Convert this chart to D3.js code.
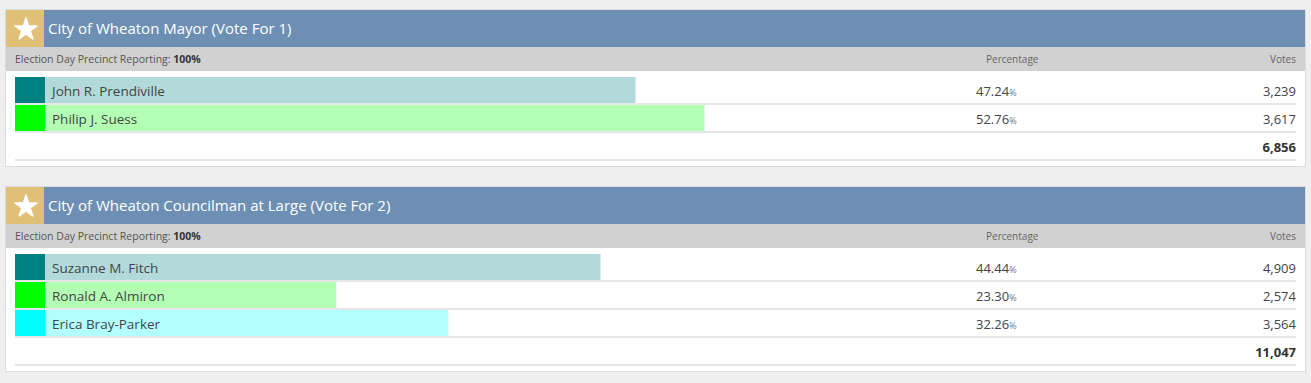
<!DOCTYPE html>
<html>
<head>
<meta charset="utf-8">
<script src="https://cdn.jsdelivr.net/npm/d3@7"></script>
<style>
  body { margin: 0; background: #efefef; }
  svg { display: block; font-family: "Open Sans", "Noto Sans", sans-serif; }
</style>
</head>
<body>
<svg id="canvas" width="1311" height="383"></svg>
<script>
// contests shown on the page
const contestTitles = ["City of Wheaton Mayor (Vote For 1)", "City of Wheaton Councilman at Large (Vote For 2)"];
const reporting = ["100%", "100%"];

const mayorNames = ["John R. Prendiville", "Philip J. Suess"];
const mayorPct = [47.24, 52.76];
const mayorVotes = [3239, 3617];

const councilNames = ["Suzanne M. Fitch", "Ronald A. Almiron", "Erica Bray-Parker"];
const councilPct = [44.44, 23.30, 32.26];
const councilVotes = [4909, 2574, 3564];

const swatchColors = ["#008080", "#00ff00", "#00ffff"];
const barColors = ["#b2dada", "#b3ffb3", "#b3ffff"];

const contests = [
  { title: contestTitles[0], rep: reporting[0], names: mayorNames, pct: mayorPct, votes: mayorVotes },
  { title: contestTitles[1], rep: reporting[1], names: councilNames, pct: councilPct, votes: councilVotes }
];

const canvas = d3.select("#canvas");
const fmt = d3.format(",");

const rowH = 28;
const headH = 37;
const subH = 24;
const x = d3.scaleLinear().domain([0, 100]).range([45, 1295]);

let panelTop = 9;
contests.forEach((c) => {
  const n = c.names.length;
  const panelH = 1 + headH + subH + 6 + n * rowH + rowH + 5;
  const g = canvas.append("g").attr("transform", "translate(0," + panelTop + ")");

  // panel box
  g.append("rect")
    .attr("x", 5.5).attr("y", 0.5)
    .attr("width", 1300).attr("height", panelH)
    .attr("fill", "#fff").attr("stroke", "#dcdcdc");

  // title bar
  g.append("rect").attr("x", 6).attr("y", 1).attr("width", 1299).attr("height", headH).attr("fill", "#6d8fb3");
  g.append("rect").attr("x", 6).attr("y", 1).attr("width", 38).attr("height", headH).attr("fill", "#e0c077");
  g.append("path")
    .attr("d", d3.symbol(d3.symbolStar, 150)())
    .attr("transform", "translate(26," + (headH / 2 + 2) + ")")
    .attr("fill", "#fff")
    .attr("stroke", "#fff")
    .attr("stroke-width", 1.5)
    .attr("stroke-linejoin", "round");
  g.append("text")
    .attr("x", 48).attr("y", headH / 2 + 6)
    .attr("fill", "#fff").attr("font-size", 15)
    .text(c.title);

  // sub header
  const sy = 1 + headH;
  g.append("rect").attr("x", 6).attr("y", sy).attr("width", 1299).attr("height", subH).attr("fill", "#d1d1d1");
  const st = g.append("text").attr("x", 15).attr("y", sy + 16).attr("font-size", 10.5).attr("fill", "#555");
  st.append("tspan").text("Election Day Precinct Reporting: ");
  st.append("tspan").attr("font-weight", "bold").attr("fill", "#333").text(c.rep);
  g.append("text").attr("x", 986).attr("y", sy + 16).attr("font-size", 10).attr("fill", "#666").text("Percentage");
  g.append("text").attr("x", 1296).attr("y", sy + 16).attr("font-size", 10).attr("fill", "#666")
    .attr("text-anchor", "end").text("Votes");

  // candidate rows
  const y = d3.scaleBand()
    .domain(d3.range(n))
    .range([sy + subH + 6, sy + subH + 6 + n * rowH]);

  const rows = g.selectAll("g.row")
    .data(c.names)
    .enter()
    .append("g")
    .attr("class", "row")
    .attr("transform", (d, i) => "translate(0," + y(i) + ")");

  rows.append("rect")
    .attr("x", x(0)).attr("y", 0)
    .attr("width", (d, i) => x(c.pct[i]) - x(0))
    .attr("height", rowH - 2)
    .attr("fill", (d, i) => barColors[i]);
  rows.append("rect")
    .attr("x", 15).attr("y", 0).attr("width", 30).attr("height", rowH - 2)
    .attr("fill", (d, i) => swatchColors[i]);
  rows.append("line")
    .attr("x1", 15).attr("x2", 1296)
    .attr("y1", rowH - 1).attr("y2", rowH - 1)
    .attr("stroke", "#e6e6e6").attr("stroke-width", 2);
  rows.append("text")
    .attr("x", 52).attr("y", 19)
    .attr("font-size", 13.5).attr("fill", "#444")
    .text((d) => d);
  const pt = rows.append("text")
    .attr("x", 976).attr("y", 19)
    .attr("font-size", 13).attr("fill", "#444");
  pt.append("tspan").text((d, i) => c.pct[i].toFixed(2));
  pt.append("tspan").attr("font-size", 9).attr("fill", "#777").text("%");
  rows.append("text")
    .attr("x", 1296).attr("y", 19)
    .attr("text-anchor", "end")
    .attr("font-size", 13).attr("fill", "#444")
    .text((d, i) => fmt(c.votes[i]));

  // total
  const ty = y(n - 1) + rowH;
  g.append("text")
    .attr("x", 1296).attr("y", ty + 19)
    .attr("text-anchor", "end")
    .attr("font-size", 13).attr("font-weight", "bold").attr("fill", "#333")
    .text(fmt(d3.sum(c.votes)));
  g.append("line")
    .attr("x1", 15).attr("x2", 1296)
    .attr("y1", ty + rowH - 1).attr("y2", ty + rowH - 1)
    .attr("stroke", "#e6e6e6").attr("stroke-width", 2);

  panelTop += panelH + 20;
});
</script>
</body>
</html>
